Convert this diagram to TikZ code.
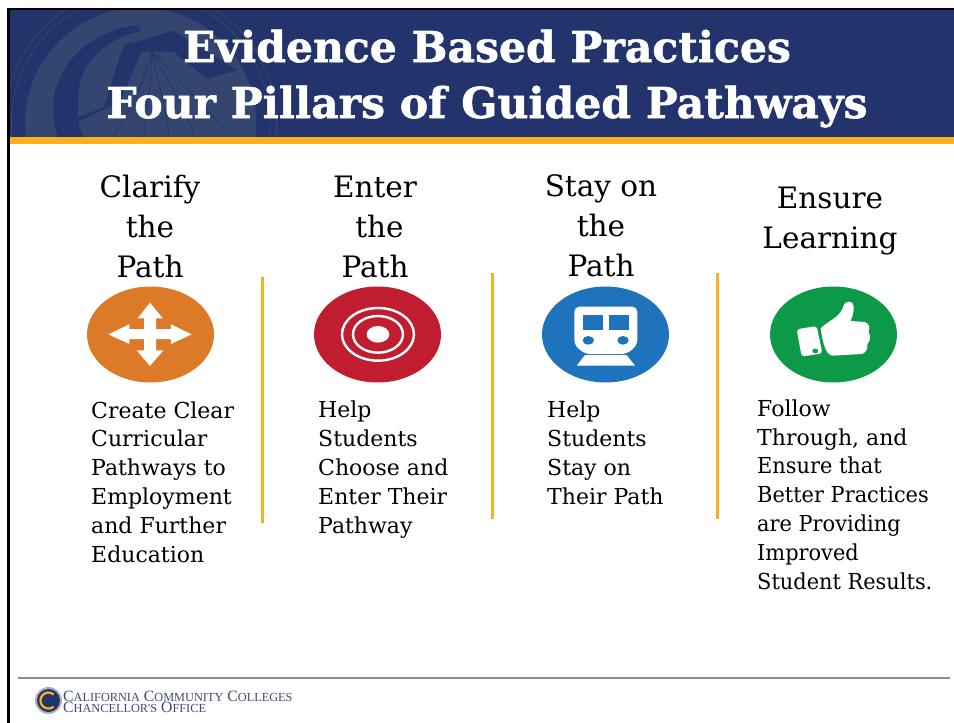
\documentclass[tikz,border=0pt]{standalone}
\usepackage{fontspec}
\setmainfont{DejaVu Serif}[BoldFeatures={FakeBold=1.3}]
\newfontfamily\footfont{Liberation Serif}
\definecolor{navy}{HTML}{22346B}
\definecolor{sealc}{HTML}{34466F}
\definecolor{goldc}{HTML}{FBB020}
\definecolor{orangec}{HTML}{DC7A27}
\definecolor{redc}{HTML}{C01E30}
\definecolor{bluec}{HTML}{1F72BC}
\definecolor{greenc}{HTML}{0C9A48}
\definecolor{footline}{HTML}{8290A6}
\definecolor{foottext}{HTML}{3D4C6E}
\tikzset{
  titletext/.style={text=white,font=\fontsize{42.5}{56}\selectfont\bfseries,align=center,inner sep=0pt,anchor=base},
  headtext/.style={font=\fontsize{29.5}{40}\selectfont,align=center,inner sep=0pt,anchor=base},
  bodytext/.style={font=\fontsize{22}{28.8}\selectfont,align=left,inner sep=0pt,anchor=base west},
  divider/.style={draw=goldc,line width=3pt},
  disc/.style={ellipse,minimum width=127pt,minimum height=96pt,inner sep=0pt,draw=none},
  small/.style={x=0.33333pt,y=-0.33333pt},
  ray/.style={navy,line width=0.7pt},
  sealring/.style={sealc,line width=0.8pt},
}
\usetikzlibrary{shapes.geometric}
\newcommand{\ftl}[2]{{\fontsize{15.7}{11}\selectfont #1}{\fontsize{12.3}{11}\selectfont #2}}
\newcommand{\nrw}[1]{{\addfontfeatures{FakeStretch=0.95}#1}}
\begin{document}
\begin{tikzpicture}[x=1pt,y=-1pt]
\useasboundingbox (0,0) rectangle (954,723);
\fill[white] (0,0) rectangle (954,723);
% header
\fill[navy] (9,9) rectangle (954,137);
\begin{scope}
\clip (9,9) rectangle (954,137);
\begin{scope}[shift={(10,10)},small]
\fill[sealc] (392,340) circle[radius=347];
\draw[sealring] (392,340) circle[radius=388];
\draw[sealring] (392,340) circle[radius=408];
% dark C band, strip and wing of the seal
\fill[navy] (385,45) .. controls (240,60) and (130,170) .. (130,290) .. controls (130,330) and (135,360) .. (145,384) -- (225,384) .. controls (212,365) and (207,350) .. (205,335) -- (330,275) -- (395,125) -- (490,125) -- (592,207) -- (680,180) -- (490,62) -- (345,105) -- (392,62) -- cycle;
% light patch inside the band
\fill[sealc] (390,65) .. controls (290,85) and (210,160) .. (205,250) -- (205,322) -- (280,292) -- (340,108) -- cycle;
% rays
\draw[ray] (425,125) .. controls (400,220) and (360,300) .. (310,384);
\draw[ray] (425,125) .. controls (425,220) and (410,300) .. (400,384);
\draw[ray] (425,125) .. controls (445,220) and (470,300) .. (478,384);
\draw[ray] (425,125) .. controls (470,210) and (530,300) .. (555,384);
\draw[ray] (425,125) .. controls (480,180) and (560,270) .. (640,350);
\end{scope}
\end{scope}
\fill[goldc] (9,137) rectangle (954,144);
% border
\fill[black] (7,8) rectangle (954,10);
\fill[black] (7,8) rectangle (10,723);
% title
\node[titletext] (title) at (487,118) {Evidence Based Practices\\Four Pillars of Guided Pathways};
% headings
\node[headtext] (h1) at (150,277) {Clarify\\the\\Path};
\node[headtext] (h2) at (375,277) {Enter\\\hspace{9pt}the\\Path};
\node[headtext] (h3) at (601,276) {Stay on\\the\\Path};
\node[headtext] (h4) at (830,248) {Ensure\\Learning};
% dividers
\draw[divider] (262,277) -- (262,523);
\draw[divider] (492,273) -- (492,519);
\draw[divider] (717,273) -- (717,519);
% discs
\node[disc,fill=orangec] (d1) at (150.5,334.5) {};
\node[disc,fill=redc] (d2) at (377.5,334.5) {};
\node[disc,fill=bluec] (d3) at (605.5,334.5) {};
\node[disc,fill=greenc] (d4) at (833.5,334.5) {};
% arrows icon
\begin{scope}[shift={(70,280)},small]
\fill[white] (240,68) -- (278,115) -- (258,115) -- (258,147) -- (303,147) -- (303,133) -- (365,163) -- (303,192) -- (303,177) -- (258,177) -- (258,211) -- (280,211) -- (240,258) -- (200,211) -- (222,211) -- (222,177) -- (178,177) -- (178,192) -- (115,163) -- (178,133) -- (178,147) -- (222,147) -- (222,115) -- (203,115) -- cycle;
% target icon
\draw[white,line width=2.4pt] (924,163) ellipse[x radius=108,y radius=79];
\draw[white,line width=2.4pt] (924,163) ellipse[x radius=75,y radius=55];
\fill[white] (924,163) ellipse[x radius=34,y radius=25];
\end{scope}
% train icon
\begin{scope}[shift={(530,280)},small]
\fill[white,rounded corners=5pt] (133,80) -- (322,80) -- (322,195) -- (290,222) -- (165,222) -- (133,195) -- cycle;
\fill[bluec] (158,105) rectangle (218,150);
\fill[bluec] (236,105) rectangle (296,150);
\fill[bluec] (175,181) ellipse[x radius=17,y radius=13];
\fill[bluec] (279,181) ellipse[x radius=17,y radius=13];
\fill[white] (165,225) -- (290,225) -- (315,257) -- (140,257) -- cycle;
\end{scope}
% thumb icon
\begin{scope}[shift={(780,290)},small]
\fill[white,rounded corners=3pt] (50,118) -- (110,108) -- (127,190) -- (65,200) -- cycle;
\fill[greenc] (106,183) ellipse[x radius=9,y radius=7];
\fill[white] (122,115) .. controls (140,95) and (175,85) .. (188,55) .. controls (190,38) and (205,30) .. (216,38) .. controls (226,48) and (220,75) .. (212,93) -- (255,96) .. controls (268,100) and (270,115) .. (266,125) .. controls (273,140) and (270,155) .. (262,162) .. controls (265,178) and (255,190) .. (245,192) -- (160,197) .. controls (140,197) and (130,170) .. (122,115) -- cycle;
\end{scope}
% body
\node[bodytext] (b1) at (91,562) {Create Clear\\Curricular\\Pathways to\\Employment\\and Further\\Education};
\node[bodytext] (b2) at (318,533) {Help\\Students\\Choose and\\Enter Their\\Pathway};
\node[bodytext] (b3) at (547,504) {Help\\Students\\Stay on\\Their Path};
\node[bodytext] (b4) at (757,589) {Follow\\Through, and\\\nrw{Ensure that}\\\nrw{Better Practices}\\\nrw{are Providing}\\\nrw{Improved}\\\nrw{Student Results.}};
% footer
\draw[footline,line width=1.5pt] (18,678) -- (950,678);
\fill[footline!70] (48.5,700.5) circle[radius=13.5];
\fill[navy] (48.5,700.5) circle[radius=11.5];
\draw[goldc,line width=2.2pt] (53.6,694.4) arc[start angle=-50,end angle=-310,radius=8];
\node[text=foottext,font=\footfont\fontsize{16}{11}\selectfont,inner sep=0pt,anchor=base west,align=left] (logo) at (63,712) {\ftl{C}{ALIFORNIA} \ftl{C}{OMMUNITY} \ftl{C}{OLLEGES}\\\ftl{C}{HANCELLOR'S} \ftl{O}{FFICE}};
\end{tikzpicture}
\end{document}
